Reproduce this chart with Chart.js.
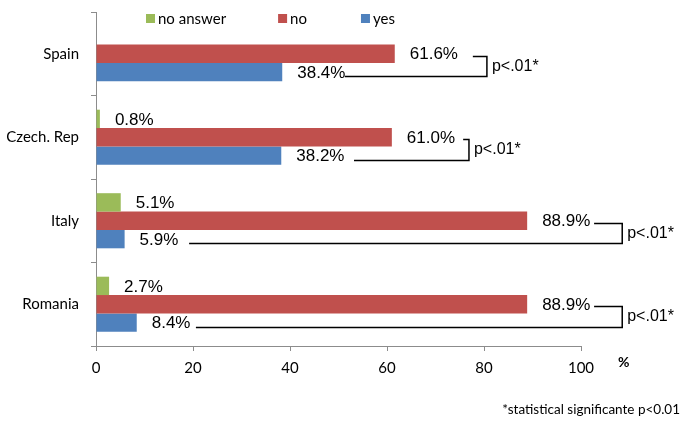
<!DOCTYPE html>
<html>
<head>
<meta charset="utf-8">
<script src="https://cdn.jsdelivr.net/npm/chart.js@4.4.1/dist/chart.umd.min.js"></script>
<style>
html, body { margin: 0; padding: 0; background: #fff; }
#wrap { width: 686px; height: 429px; position: relative; }
</style>
</head>
<body>
<div id="wrap"><canvas id="chart"></canvas></div>
<script>
// ── data ──
const countries = ['Spain', 'Czech. Rep', 'Italy', 'Romania'];
const noAnswer = [0, 0.8, 5.1, 2.7];
const no = [61.6, 61.0, 88.9, 88.9];
const yes = [38.4, 38.2, 5.9, 8.4];
const xTicks = [0, 20, 40, 60, 80, 100];

// significance brackets (in % units of the x axis)
const pLabels = ['p<.01*', 'p<.01*', 'p<.01*', 'p<.01*'];
const bracketAt = [80.6, 76.9, 108.5, 108.5];
const upperFrom = [77.7, 75.7, 102.7, 102.7];
const lowerFrom = [51.3, 53.2, 19.2, 20.6];

const footnote = '*statistical significante p<0.01';

const GREEN = '#9BBB59', RED = '#C0504D', BLUE = '#4F81BD';
const AXIS = '#8c8c8c';
const SANS = 'Lato, "Open Sans", sans-serif';
const ARIAL = '"Liberation Sans", Arial, sans-serif';

// value labels, brackets, legend, footnote
const extras = {
    id: 'extras',
    afterDatasetsDraw(chart) {
        const ctx = chart.ctx;
        const x = chart.scales.x;
        ctx.save();
        ctx.fillStyle = '#000';
        ctx.textBaseline = 'middle';
        ctx.font = '17px ' + ARIAL;
        chart.data.datasets.forEach((ds, i) => {
            chart.getDatasetMeta(i).data.forEach((bar, j) => {
                const v = ds.data[j];
                if (!v) return;
                ctx.fillText(v.toFixed(1) + '%', bar.x + 15, bar.y + 1);
            });
        });

        const redBars = chart.getDatasetMeta(1).data;
        const blueBars = chart.getDatasetMeta(2).data;
        ctx.strokeStyle = '#000';
        ctx.lineWidth = 1.5;
        ctx.font = '16px ' + ARIAL;
        countries.forEach((c, j) => {
            const yUp = Math.round(redBars[j].y + 2) + 0.5;
            const yLo = Math.round(blueBars[j].y + 4) + 0.5;
            const bx = x.getPixelForValue(bracketAt[j]);
            ctx.beginPath();
            ctx.moveTo(x.getPixelForValue(upperFrom[j]), yUp);
            ctx.lineTo(bx, yUp);
            ctx.lineTo(bx, yLo);
            ctx.lineTo(x.getPixelForValue(lowerFrom[j]), yLo);
            ctx.stroke();
            ctx.fillText(pLabels[j], bx + 5, (yUp + yLo) / 2);
        });

        // legend
        ctx.font = '15px ' + SANS;
        const gaps = [52, 54, 0];
        let lx = chart.chartArea.left + 50;
        chart.data.datasets.forEach((ds, i) => {
            ctx.fillStyle = ds.backgroundColor;
            ctx.fillRect(lx, 14, 9, 9);
            ctx.fillStyle = '#000';
            ctx.fillText(ds.label, lx + 12, 19);
            lx += 12 + ctx.measureText(ds.label).width + gaps[i];
        });

        // axis unit
        ctx.font = 'bold 14px ' + SANS;
        ctx.fillText('%', chart.chartArea.right + 37, chart.chartArea.bottom + 16);

        // footnote
        ctx.font = '13.5px ' + SANS;
        ctx.textAlign = 'right';
        ctx.fillText(footnote, 680, 410);
        ctx.restore();
    }
};

new Chart(document.getElementById('chart'), {
    type: 'bar',
    data: {
        labels: countries,
        datasets: [
            { label: 'no answer', data: noAnswer, backgroundColor: GREEN },
            { label: 'no', data: no, backgroundColor: RED },
            { label: 'yes', data: yes, backgroundColor: BLUE },
        ],
    },
    options: {
        indexAxis: 'y',
        responsive: true,
        maintainAspectRatio: false,
        animation: false,
        layout: { padding: { top: 12, right: 105, left: 0, bottom: 0 } },
        datasets: { bar: { categoryPercentage: 0.66, barPercentage: 1 } },
        plugins: {
            legend: { display: false },
            tooltip: { enabled: false },
        },
        scales: {
            x: {
                min: 0,
                max: 100,
                afterFit: s => { s.height = 83; s.paddingLeft = 0; s.paddingRight = 0; },
                afterBuildTicks: s => { s.ticks = xTicks.map(v => ({ value: v })); },
                border: { color: AXIS, width: 1 },
                grid: { drawOnChartArea: false, color: AXIS, tickLength: 5 },
                ticks: { color: '#000', font: { family: SANS, size: 15 }, padding: 8 },
            },
            y: {
                afterFit: s => { s.width = 96; s.paddingTop = 0; s.paddingBottom = 0; },
                border: { color: AXIS, width: 1 },
                grid: { drawOnChartArea: false, color: AXIS, tickLength: 5 },
                ticks: { color: '#000', font: { family: SANS, size: 15 }, padding: 12 },
            },
        },
    },
    plugins: [extras],
});
</script>
</body>
</html>
